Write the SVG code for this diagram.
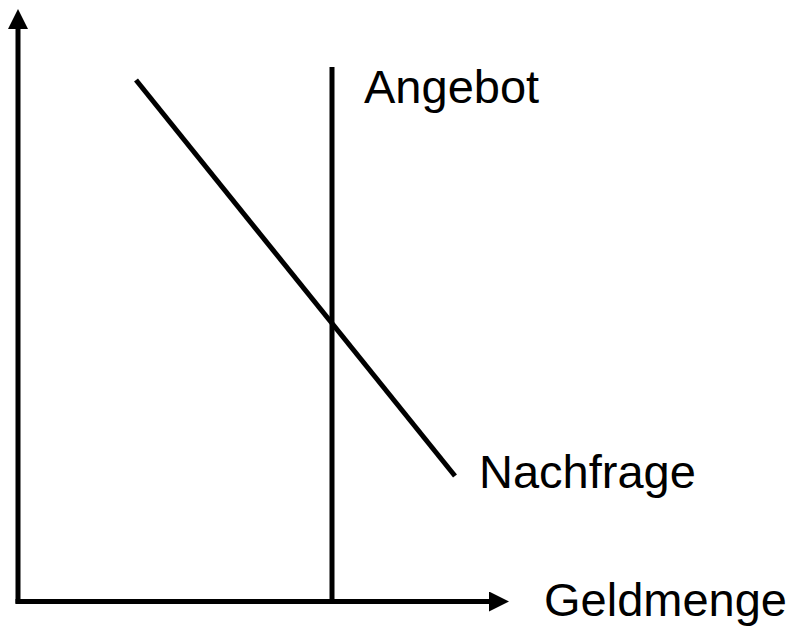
<svg xmlns="http://www.w3.org/2000/svg" width="798" height="631" viewBox="0 0 798 631">
  <style>
    .ln { stroke: #000; stroke-width: 5; fill: none; }
    .lbl { font-family: "Liberation Sans", Arial, sans-serif; font-size: 47px; fill: #000; }
  </style>
  <defs>
    <marker id="arrow" viewBox="0 0 20 20" refX="0" refY="10" markerWidth="20" markerHeight="20" markerUnits="userSpaceOnUse" orient="auto">
      <path d="M0,0 L20,10 L0,20 Z" fill="#000"/>
    </marker>
  </defs>
  <g id="connectors">
    <line id="y-axis" class="ln" x1="18" y1="603.5" x2="18" y2="29" marker-end="url(#arrow)"/>
    <line id="x-axis" class="ln" x1="15.5" y1="601.5" x2="489" y2="601.5" marker-end="url(#arrow)"/>
    <line id="angebot-line" class="ln" x1="332" y1="67" x2="332" y2="601"/>
    <line id="nachfrage-line" class="ln" x1="136" y1="80" x2="455" y2="476"/>
  </g>
  <g id="angebot"><text class="lbl" x="364" y="103">Angebot</text></g>
  <g id="nachfrage"><text class="lbl" x="479" y="488">Nachfrage</text></g>
  <g id="geldmenge"><text class="lbl" x="544" y="616">Geldmenge</text></g>
</svg>
